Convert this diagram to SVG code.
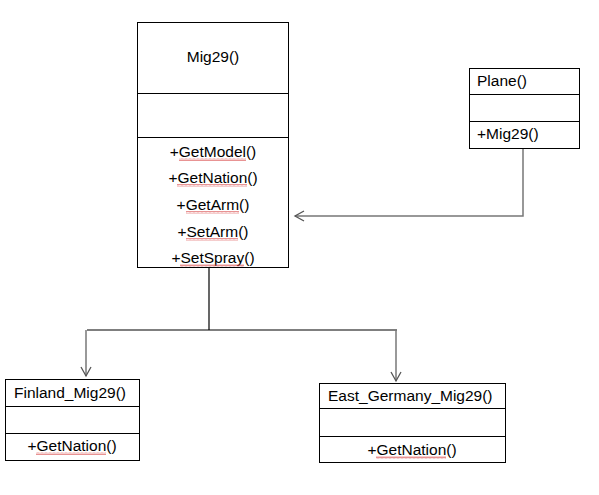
<svg xmlns="http://www.w3.org/2000/svg" width="599" height="495" viewBox="0 0 599 495">
<style>
.box{fill:#fff;stroke:#000;stroke-width:1}
.t{font-family:"Liberation Sans",Arial,sans-serif;font-size:15.5px;fill:#000}
.c{text-anchor:middle}
.sq{fill:url(#wave)}
.gl{fill:none;stroke:#777;stroke-width:1.5}
.bl{fill:none;stroke:#000;stroke-width:1.2}
</style>
<defs>
<pattern id="wave" width="4" height="3" patternUnits="userSpaceOnUse">
<path d="M0,2.5 L1,0.5 L2,2.5 L3,0.5 L4,2.5" fill="none" stroke="#d84a4a" stroke-width="0.6"/>
</pattern>
<marker id="open" markerWidth="12" markerHeight="12" refX="10" refY="6" orient="auto" markerUnits="userSpaceOnUse">
<path d="M1,1 L10,6 L1,11" fill="none" stroke="#555" stroke-width="1.3"/>
</marker>
</defs>
<rect width="599" height="495" fill="#fff"/>
<g id="connectors">
<path class="gl" d="M523,148 V216 H295" marker-end="url(#open)"/>
<path class="bl" d="M209,268 V330"/>
<path class="bl" d="M87,330 H397"/>
<path class="gl" d="M86,330 V376" marker-end="url(#open)"/>
<path class="gl" d="M396,330 V381" marker-end="url(#open)"/>
</g>
<g id="mig29">
<rect class="box" x="137.5" y="22.5" width="151" height="245"/>
<line class="box" x1="137.5" y1="93.5" x2="288.5" y2="93.5"/>
<line class="box" x1="137.5" y1="137.5" x2="288.5" y2="137.5"/>
<text class="t c" x="213" y="62">Mig29()</text>
<text class="t c" x="213" y="157">+GetModel()</text>
<text class="t c" x="213" y="183">+GetNation()</text>
<text class="t c" x="213" y="210">+GetArm()</text>
<text class="t c" x="213" y="237">+SetArm()</text>
<text class="t c" x="213" y="263">+SetSpray()</text>
<rect class="sq" x="179" y="158" width="67" height="3"/>
<rect class="sq" x="177" y="184" width="70" height="3"/>
<rect class="sq" x="186" y="211" width="53" height="3"/>
<rect class="sq" x="186" y="238" width="52" height="3"/>
<rect class="sq" x="180" y="264" width="64" height="3"/>
</g>
<g id="plane">
<rect class="box" x="469.5" y="68.5" width="110" height="80"/>
<line class="box" x1="469.5" y1="94.5" x2="579.5" y2="94.5"/>
<line class="box" x1="469.5" y1="121.5" x2="579.5" y2="121.5"/>
<text class="t" x="477" y="86">Plane()</text>
<text class="t" x="477" y="139">+Mig29()</text>
</g>
<g id="finland">
<rect class="box" x="5.5" y="379.5" width="134" height="81"/>
<line class="box" x1="5.5" y1="406.5" x2="139.5" y2="406.5"/>
<line class="box" x1="5.5" y1="433.5" x2="139.5" y2="433.5"/>
<text class="t" x="14" y="398">Finland_Mig29()</text>
<text class="t c" x="72" y="451">+GetNation()</text>
<rect class="sq" x="36" y="452" width="70" height="3"/>
</g>
<g id="eastgermany">
<rect class="box" x="319.5" y="383.5" width="186" height="79"/>
<line class="box" x1="319.5" y1="408.5" x2="505.5" y2="408.5"/>
<line class="box" x1="319.5" y1="436.5" x2="505.5" y2="436.5"/>
<text class="t" x="328" y="401">East_Germany_Mig29()</text>
<text class="t c" x="412" y="455">+GetNation()</text>
<rect class="sq" x="376" y="456" width="70" height="3"/>
</g>
</svg>
